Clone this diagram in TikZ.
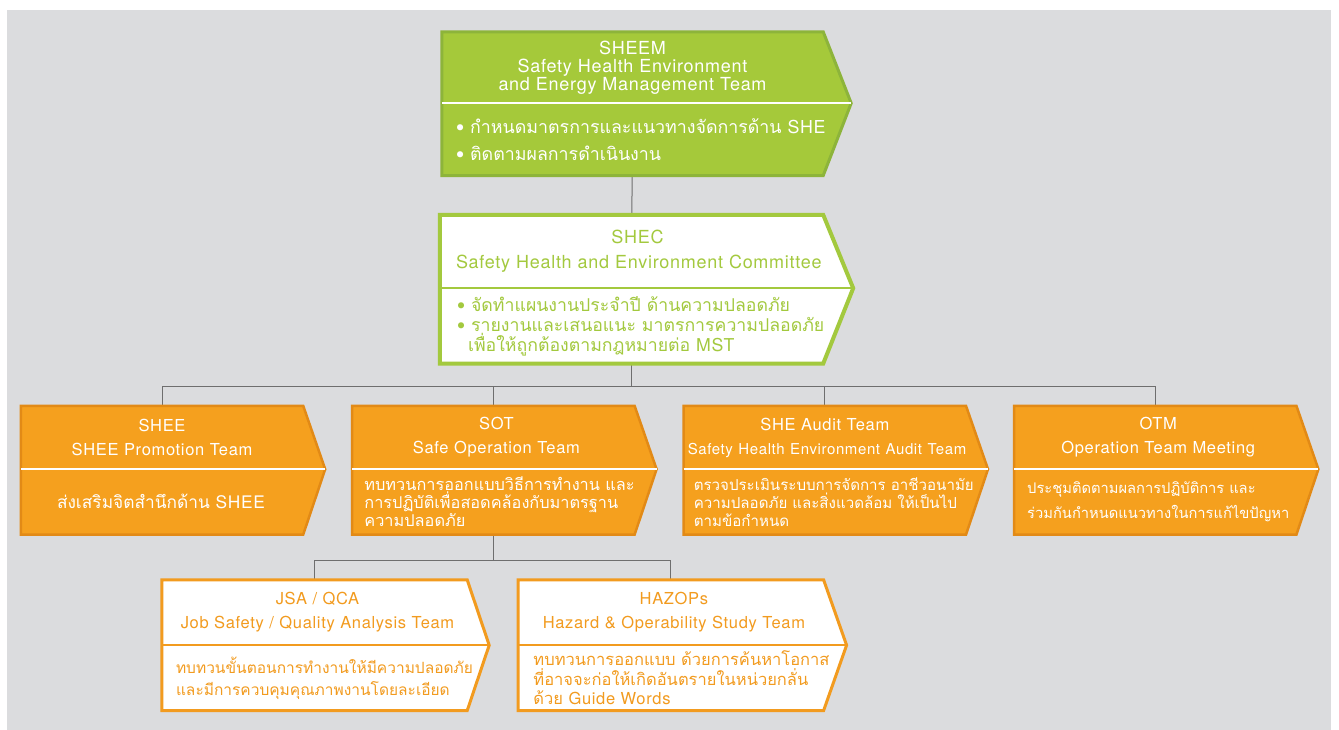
\documentclass[tikz,border=0pt]{standalone}
\usepackage{fontspec}
\setmainfont{TeX Gyre Heros}[LetterSpace=4]
\newfontfamily\thaifont[Script=Thai]{Loma}
\usetikzlibrary{positioning, backgrounds}

\definecolor{panel}{HTML}{DBDCDE}
\definecolor{linkgrey}{HTML}{6E6E6E}
\definecolor{sheemgreen}{HTML}{A5C93A}
\definecolor{sheemedge}{HTML}{8DB43A}
\definecolor{shecgreen}{HTML}{A3C93E}
\definecolor{teamorange}{HTML}{F5A01E}
\definecolor{teamedge}{HTML}{E28A16}
\definecolor{suborange}{HTML}{F29B1F}

\tikzset{
    link/.style={draw=linkgrey, line width=1pt}, % plain grey connectors
    head/.style={align=center, inner xsep=4pt, inner ysep=0pt, font=\fontsize{16.5}{24}\selectfont},
    body/.style={align=left, inner ysep=0pt, font=\thaifont\fontsize{#1}{#1}\selectfont},
    sheemframe/.style={fill=sheemgreen, draw=sheemedge, line width=3pt},
    shecframe/.style={fill=white, draw=shecgreen, line width=4pt},
    teamframe/.style={fill=teamorange, draw=teamedge, line width=2.5pt},
    subframe/.style={fill=white, draw=suborange, line width=3pt},
}

\begin{document}
\begin{tikzpicture}[x=1pt, y=1pt]
    \useasboundingbox (0,0) rectangle (1339,-730);

    % top two committees
    \node[head, text=white, text width=373pt, minimum height=71pt, font=\fontsize{18}{18}\selectfont] (sheem) at (632.5,-67.5)
        {SHEEM\\Safety Health Environment\\and Energy Management Team};
    \node[body=17, text=white, text width=353pt, inner xsep=14pt, minimum height=72pt, below=0pt of sheem,
          font=\thaifont\fontsize{17.8}{27}\selectfont] (sheemb)
        {•~กำหนดมาตรการและแนวทางจัดการด้าน~{\rmfamily SHE}\\•~ติดตามผลการดำเนินงาน};

    \node[head, text=shecgreen, text width=375pt, minimum height=73pt, font=\fontsize{18}{25}\selectfont] (shec) at (631.5,-251.5)
        {\hspace*{12pt}SHEC\\\mbox{\hspace*{12pt}Safety Health and Environment Committee}};
    \node[body=17, text=shecgreen, text width=349pt, inner xsep=17pt, minimum height=75pt, below=0pt of shec,
          font=\thaifont\fontsize{17.7}{20}\selectfont] (shecb)
        {•~จัดทำแผนงานประจำปี~ด้านความปลอดภัย\\•~รายงานและเสนอแนะ~มาตรการความปลอดภัย\\\hspace*{11pt}เพื่อให้ถูกต้องตามกฎหมายต่อ~{\rmfamily MST}};

    % four teams
    \node[head, text=white, text width=274pt, minimum height=63pt] (shee) at (162,-437.5)
        {SHEE\\SHEE Promotion Team};
    \node[body=17.3, text=white, text width=246pt, inner xsep=18pt, minimum height=65pt, below=0pt of shee] (sheeb)
        {\hspace*{18pt}ส่งเสริมจิตสำนึกด้าน~{\rmfamily SHEE}};

    \node[head, text=white, text width=274pt, minimum height=63pt, right=49pt of shee] (sot)
        {\hspace*{6pt}SOT\\\hspace*{6pt}Safe Operation Team};
    \node[body=16, text=white, text width=258pt, inner xsep=12pt, minimum height=65pt, below=0pt of sot,
          font=\thaifont\fontsize{16.3}{18}\selectfont] (sotb)
        {ทบทวนการออกแบบวิธีการทำงาน~และ\\การปฏิบัติเพื่อสอดคล้องกับมาตรฐาน\\ความปลอดภัย};

    \node[head, text=white, text width=274pt, minimum height=63pt, right=49pt of sot] (audit)
        {SHE Audit Team\\\mbox{\fontsize{15}{15}\selectfont Safety Health Environment Audit Team}};
    \node[body=15, text=white, text width=262pt, inner xsep=10pt, minimum height=65pt, below=0pt of audit,
          font=\thaifont\fontsize{15.1}{18}\selectfont] (auditb)
        {ตรวจประเมินระบบการจัดการ~อาชีวอนามัย\\ความปลอดภัย~และสิ่งแวดล้อม~ให้เป็นไป\\ตามข้อกำหนด};

    \node[head, text=white, text width=274pt, minimum height=63pt, right=48pt of audit] (otm)
        {\hspace*{6pt}OTM\\\hspace*{6pt}Operation Team Meeting};
    \node[body=15, text=white, text width=256pt, inner xsep=13pt, minimum height=65pt, below=0pt of otm,
          font=\thaifont\fontsize{14.7}{25}\selectfont] (otmb)
        {ประชุมติดตามผลการปฏิบัติการ~และ\\ร่วมกันกำหนดแนวทางในการแก้ไขปัญหา};

    % under SOT
    \node[head, text=suborange, text width=297pt, minimum height=65pt] (jsa) at (314.5,-612.5)
        {\hspace*{6pt}JSA / QCA\\\hspace*{6pt}Job Safety / Quality Analysis Team};
    \node[body=16, text=suborange, text width=277pt, inner xsep=14pt, minimum height=65pt, below=0pt of jsa,
          font=\thaifont\fontsize{15.5}{22}\selectfont] (jsab)
        {ทบทวนขั้นตอนการทำงานให้มีความปลอดภัย\\และมีการควบคุมคุณภาพงานโดยละเอียด};

    \node[head, text=suborange, text width=297pt, minimum height=65pt, right=51pt of jsa] (hazop)
        {\hspace*{6pt}HAZOPs\\\hspace*{6pt}Hazard \& Operability Study Team};
    \node[body=16, text=suborange, text width=275pt, inner xsep=15pt, minimum height=65pt, below=0pt of hazop,
          font=\thaifont\fontsize{16.5}{19.5}\selectfont] (hazopb)
        {ทบทวนการออกแบบ~ด้วยการค้นหาโอกาส\\ที่อาจจะก่อให้เกิดอันตรายในหน่วยกลั่น\\ด้วย~{\rmfamily Guide~Words}};

    \begin{scope}[on background layer]
        \fill[white] (0,0) rectangle (1339,-730);
        \fill[panel] (7,-10) rectangle (1331,-730);

        % connectors
        \coordinate[below=23pt of shecb.south] (bus);
        \coordinate[below=26pt of sotb.south] (subbus);
        \draw[link] (sheemb) -- (shec);
        \draw[link] (shecb) -- (bus);
        \draw[link] (shee.north) |- (bus) -| (otm.north);
        \draw[link] (sot.north) |- (bus);
        \draw[link] (audit.north) |- (bus);
        \draw[link] (sotb) -- (subbus);
        \draw[link] (jsa.north) |- (subbus) -| (hazop.north);

        % arrow shaped frames and their dividers
        \foreach \n/\tip/\fr/\dv in {sheem/28/sheemframe/white, shec/30/shecframe/shecgreen,
                shee/22/teamframe/white, sot/22/teamframe/white, audit/22/teamframe/white, otm/22/teamframe/white,
                jsa/22/subframe/suborange, hazop/23/subframe/suborange} {
            \draw[\fr] (\n.north west) -- (\n.north east) -- ([xshift=\tip pt]\n.south east)
                -- (\n b.south east) -- (\n b.south west) -- cycle;
            \draw[draw=\dv, line width=2.5pt] (\n.south west) -- ([xshift=\tip pt]\n.south east);
        }
    \end{scope}
\end{tikzpicture}
\end{document}
